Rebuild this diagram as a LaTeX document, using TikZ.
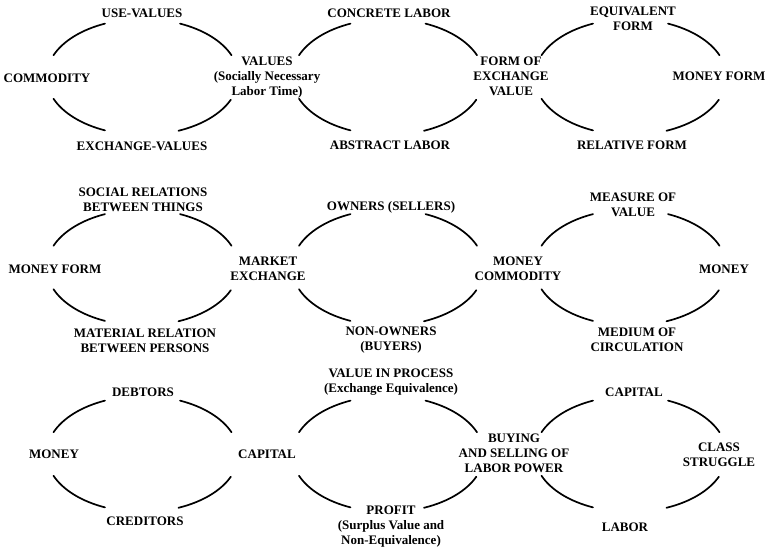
\documentclass[tikz,border=0pt]{standalone}
\usepackage{fontspec}
\setmainfont{Liberation Serif}
\usetikzlibrary{calc}
\tikzset{
  lbl/.style={font=\bfseries\fontsize{13}{15}\selectfont, align=center, inner sep=0pt, text=black},
  arcline/.style={line width=1.7pt, line cap=round, draw=black}
}
% #1 name, #2 cx, #3 cy : four arcs of an ellipse (a=96, b=58)
\newcommand\ringarcs[3]{%
  \foreach \ta/\tb in {22/67,113/158,202/247,292/337}{%
    \coordinate (#1-\ta) at ({#2+96*cos(\ta)},{#3-58*sin(\ta)});
    \coordinate (#1-\tb) at ({#2+96*cos(\tb)},{#3-58*sin(\tb)});
    \draw[arcline] (#1-\ta) .. controls ($(#1-\ta)+({-0.2652*96*sin(\ta)},{-0.2652*58*cos(\ta)})$)
      and ($(#1-\tb)+({0.2652*96*sin(\tb)},{0.2652*58*cos(\tb)})$) .. (#1-\tb);
  }%
}
\begin{document}
\begin{tikzpicture}[x=1pt,y=-1pt]
\useasboundingbox (0,0) rectangle (768,551);
\fill[white] (0,0) rectangle (768,551);

% ---------- row 1 ----------
\ringarcs{a1}{142.5}{77}
\ringarcs{a2}{388}{77}
\ringarcs{a3}{630.5}{77}
\node[lbl] (usev) at (142,13) {USE-VALUES};
\node[lbl] (comm) at (47,78) {COMMODITY};
\node[lbl] (exv) at (142,146) {EXCHANGE-VALUES};
\node[lbl] (vals) at (267,78) {VALUES\\(Socially Necessary\\Labor Time)};
\node[lbl] (conc) at (389,13) {CONCRETE LABOR};
\node[lbl] (abst) at (390,145) {ABSTRACT LABOR};
\node[lbl] (foev) at (511,76) {FORM OF\\EXCHANGE\\VALUE};
\node[lbl] (equi) at (633,18.5) {EQUIVALENT\\FORM};
\node[lbl] (monf) at (719,76) {MONEY FORM};
\node[lbl] (rel) at (632,145) {RELATIVE FORM};

% ---------- row 2 ----------
\ringarcs{b1}{142.5}{267.5}
\ringarcs{b2}{388}{267.5}
\ringarcs{b3}{630.5}{267.5}
\node[lbl] (soc) at (143,199.5) {SOCIAL RELATIONS\\BETWEEN THINGS};
\node[lbl] (monf2) at (55,269) {MONEY FORM};
\node[lbl] (mat) at (145,340.5) {MATERIAL RELATION\\BETWEEN PERSONS};
\node[lbl] (mkt) at (268,268.5) {MARKET\\EXCHANGE};
\node[lbl] (own) at (391,207) {OWNERS (SELLERS)};
\node[lbl] (mcom) at (518,269) {MONEY\\COMMODITY};
\node[lbl] (nown) at (391,340) {NON-OWNERS\\(BUYERS)};
\node[lbl] (meas) at (633,205) {MEASURE OF\\VALUE};
\node[lbl] (mon) at (724,269) {MONEY};
\node[lbl] (med) at (637,339.5) {MEDIUM OF\\CIRCULATION};

% ---------- row 3 ----------
\ringarcs{c1}{142.5}{454}
\ringarcs{c2}{388}{454}
\ringarcs{c3}{630.5}{454}
\node[lbl] (debt) at (143,392) {DEBTORS};
\node[lbl] (mon3) at (54,454) {MONEY};
\node[lbl] (cred) at (145,521) {CREDITORS};
\node[lbl] (cap) at (267,454) {CAPITAL};
\node[lbl] (vip) at (391,382.5) {VALUE IN PROCESS\\(Exchange Equivalence)};
\node[lbl] (buy) at (514,453) {BUYING\\AND SELLING OF\\LABOR POWER};
\node[lbl] (prof) at (391,527) {PROFIT\\(Surplus Value and\\Non-Equivalence)};
\node[lbl] (cap2) at (634,392) {CAPITAL};
\node[lbl] (cls) at (719,454.5) {CLASS\\STRUGGLE};
\node[lbl] (lab) at (625,527) {LABOR};
\end{tikzpicture}
\end{document}
